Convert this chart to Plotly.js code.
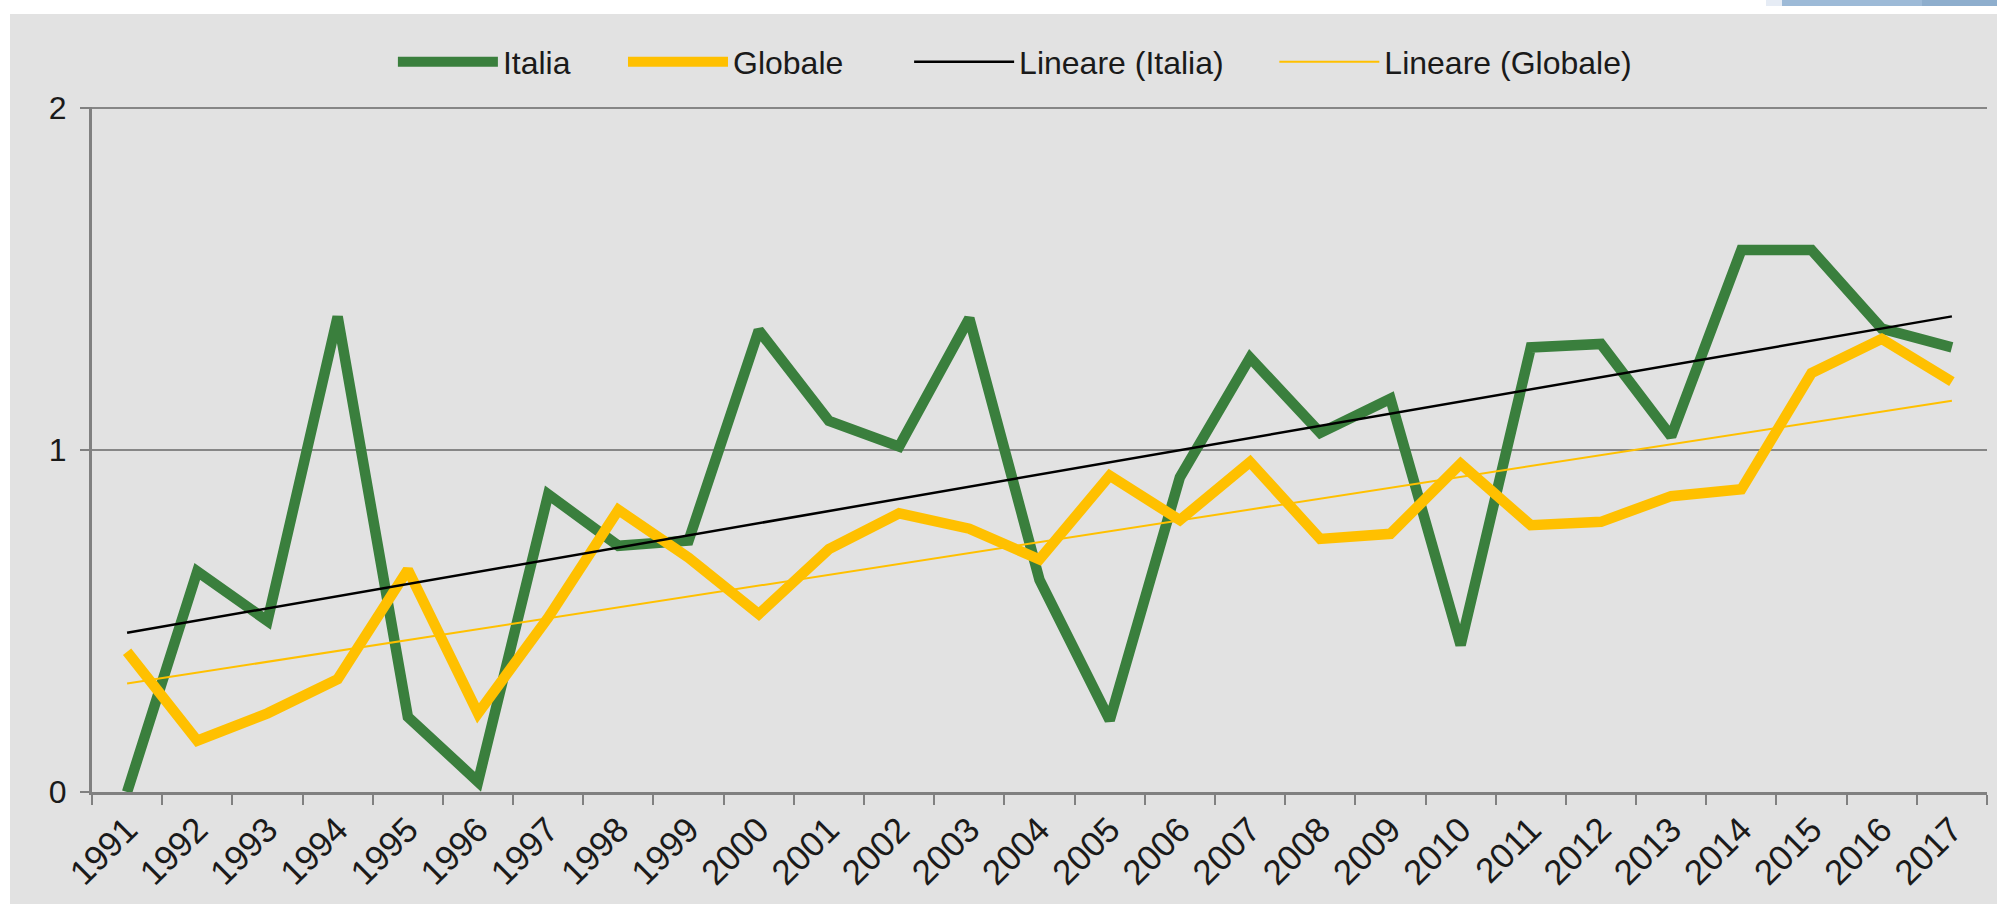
<!DOCTYPE html>
<html><head><meta charset="utf-8">
<script src="https://cdn.plot.ly/plotly-3.0.1.min.js"></script>
<style>
html,body{margin:0;padding:0;background:#fff;width:1997px;height:904px;overflow:hidden;position:relative}
#chart{position:absolute;left:10px;top:14px;width:1987px;height:890px}
.deco{position:absolute;top:0;height:6px}
</style></head><body>
<div class="deco" style="left:1766px;width:16px;background:#e6ecf5"></div>
<div class="deco" style="left:1782px;width:140px;background:#9dbad7"></div>
<div class="deco" style="left:1922px;width:75px;background:#8eaecd"></div>
<div id="chart"></div>
<script>
const years = ['1991','1992','1993','1994','1995','1996','1997','1998','1999','2000','2001','2002','2003','2004','2005','2006','2007','2008','2009','2010','2011','2012','2013','2014','2015','2016','2017'];
const italia = [0.00,0.645,0.50,1.39,0.22,0.03,0.87,0.72,0.735,1.35,1.085,1.01,1.385,0.62,0.21,0.92,1.27,1.05,1.15,0.43,1.30,1.31,1.04,1.585,1.585,1.355,1.30];
const globale = [0.41,0.15,0.23,0.33,0.65,0.23,0.51,0.825,0.685,0.52,0.71,0.815,0.77,0.68,0.925,0.795,0.965,0.74,0.755,0.96,0.78,0.79,0.865,0.885,1.225,1.325,1.20];
const seriesNames = ['Italia','Globale','Lineare (Italia)','Lineare (Globale)'];

// Linear (least squares) trend lines, as Excel's "Lineare" trendline
function linearTrend(vals){
  const n = vals.length;
  let sx=0, sy=0, sxx=0, sxy=0;
  for(let i=0;i<n;i++){ sx+=i; sy+=vals[i]; sxx+=i*i; sxy+=i*vals[i]; }
  const b = (n*sxy - sx*sy)/(n*sxx - sx*sx);
  const a = (sy - b*sx)/n;
  return vals.map((_,i)=>a+b*i);
}
const trendItalia = linearTrend(italia);
const trendGlobale = linearTrend(globale);

const green = '#3a7f3d', gold = '#ffc000';
const data = [
  {x: years, y: italia, name: seriesNames[0], type:'scatter', mode:'lines', line:{color:green, width:10.5}, legend:'legend'},
  {x: years, y: globale, name: seriesNames[1], type:'scatter', mode:'lines', line:{color:gold, width:10.5}, legend:'legend2'},
  {x: years, y: trendItalia, name: seriesNames[2], type:'scatter', mode:'lines', line:{color:'#000000', width:2.5}, legend:'legend3'},
  {x: years, y: trendGlobale, name: seriesNames[3], type:'scatter', mode:'lines', line:{color:gold, width:2}, legend:'legend4'}
];
function leg(x){
  return {orientation:'h', xref:'container', yref:'container', x:x, xanchor:'left', y:0.946, yanchor:'middle',
          font:{size:32}, itemwidth:100, bgcolor:'rgba(0,0,0,0)'};
}
const layout = {
  width:1987, height:890,
  paper_bgcolor:'#e2e2e2', plot_bgcolor:'#e2e2e2',
  margin:{l:82, r:10, t:93, b:112, pad:0},
  font:{family:'"Liberation Sans", Arial, sans-serif', size:32, color:'#1a1a1a'},
  showlegend:true,
  legend:leg(0.1927), legend2:leg(0.3085), legend3:leg(0.4525), legend4:leg(0.6363),
  xaxis:{type:'category', tickson:'boundaries', ticks:'outside', ticklen:10, tickwidth:2, tickcolor:'#808080',
         showline:true, linecolor:'#808080', linewidth:3, showgrid:false, tickangle:-45,
         tickfont:{size:35}, range:[-0.5,26.5], zeroline:false},
  yaxis:{range:[0,2.003], tick0:0, dtick:1, ticks:'outside', ticklen:9, tickwidth:2, tickcolor:'#808080',
         showline:true, linecolor:'#808080', linewidth:3, showgrid:true, gridcolor:'#868686', gridwidth:2.5,
         zeroline:false, tickfont:{size:32}, ticklabelstandoff:7}
};
Plotly.newPlot('chart', data, layout, {displayModeBar:false, staticPlot:true});
</script>
</body></html>
